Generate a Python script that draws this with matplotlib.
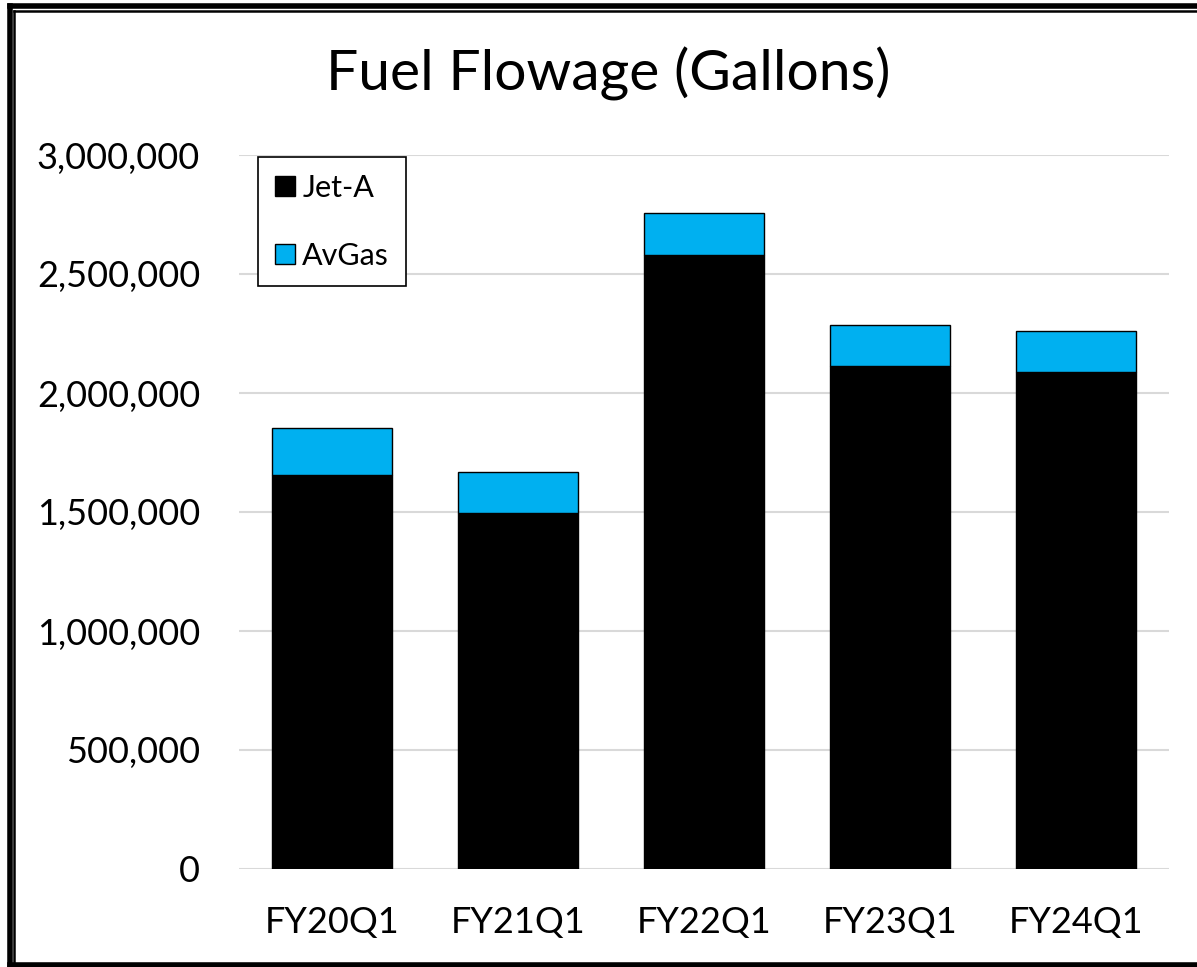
import matplotlib
matplotlib.use("Agg")
import matplotlib.pyplot as plt
from matplotlib.lines import Line2D
from matplotlib.ticker import FuncFormatter
import numpy as np

quarters = ["FY20Q1", "FY21Q1", "FY22Q1", "FY23Q1", "FY24Q1"]
jet_a = [1655000, 1496000, 2580000, 2113000, 2088000]
avgas = [198000, 172000, 176000, 173000, 173000]

plt.rcParams["font.family"] = ["Lato", "DejaVu Sans"]

W, H = 1197, 967
fig = plt.figure(figsize=(W / 100, H / 100), dpi=100)
ax = fig.add_axes([239 / W, 1 - 869 / H, (1169 - 239) / W, (869 - 155) / H])

x = np.arange(len(quarters))
ax.bar(x, jet_a, width=0.645, color="black", edgecolor="black", linewidth=1, label="Jet-A")
ax.bar(x, avgas, bottom=jet_a, width=0.645, color="#00B0F0", edgecolor="black",
       linewidth=1, label="AvGas")

ax.set_xlim(-0.5, 4.5)
ax.set_ylim(0, 3000000)
ax.set_yticks(np.arange(0, 3000001, 500000))
ax.yaxis.set_major_formatter(FuncFormatter(lambda v, p: f"{int(v):,}"))
ax.set_xticks(x)
ax.set_xticklabels(quarters)
ax.tick_params(axis="both", length=0, labelsize=26)
ax.tick_params(axis="y", pad=28)
ax.tick_params(axis="x", pad=27)
ax.grid(axis="y", color="#d9d9d9", linewidth=1.5)
ax.set_axisbelow(True)
for s in ax.spines.values():
    s.set_visible(False)

leg = ax.legend(loc="upper left", bbox_to_anchor=(258 / W, 1 - 157 / H),
                bbox_transform=fig.transFigure, borderaxespad=0, fontsize=22,
                fancybox=False, edgecolor="black", framealpha=1,
                handlelength=0.65, handleheight=0.65, handletextpad=0.25,
                labelspacing=1.3, borderpad=0.55)
leg.get_frame().set_linewidth(1.2)

fig.text(0.508, 1 - 74 / H, "Fuel Flowage (Gallons)", ha="center", va="center", fontsize=41)

# double border around the chart area
fig.add_artist(Line2D([9.5 / W, 9.5 / W], [0, 1 - 6 / H], color="black", lw=4, transform=fig.transFigure))
fig.add_artist(Line2D([9.5 / W, 1], [1 - 6 / H, 1 - 6 / H], color="black", lw=4, transform=fig.transFigure))
fig.add_artist(Line2D([14 / W, 14 / W], [2 / H, 1 - 10.5 / H], color="black", lw=1.8, transform=fig.transFigure))
fig.add_artist(Line2D([14 / W, 1], [1 - 10.5 / H, 1 - 10.5 / H], color="black", lw=1.8, transform=fig.transFigure))
fig.add_artist(Line2D([9.5 / W, 1], [2 / H, 2 / H], color="black", lw=4, transform=fig.transFigure))

fig.savefig("out.png", dpi=100)
